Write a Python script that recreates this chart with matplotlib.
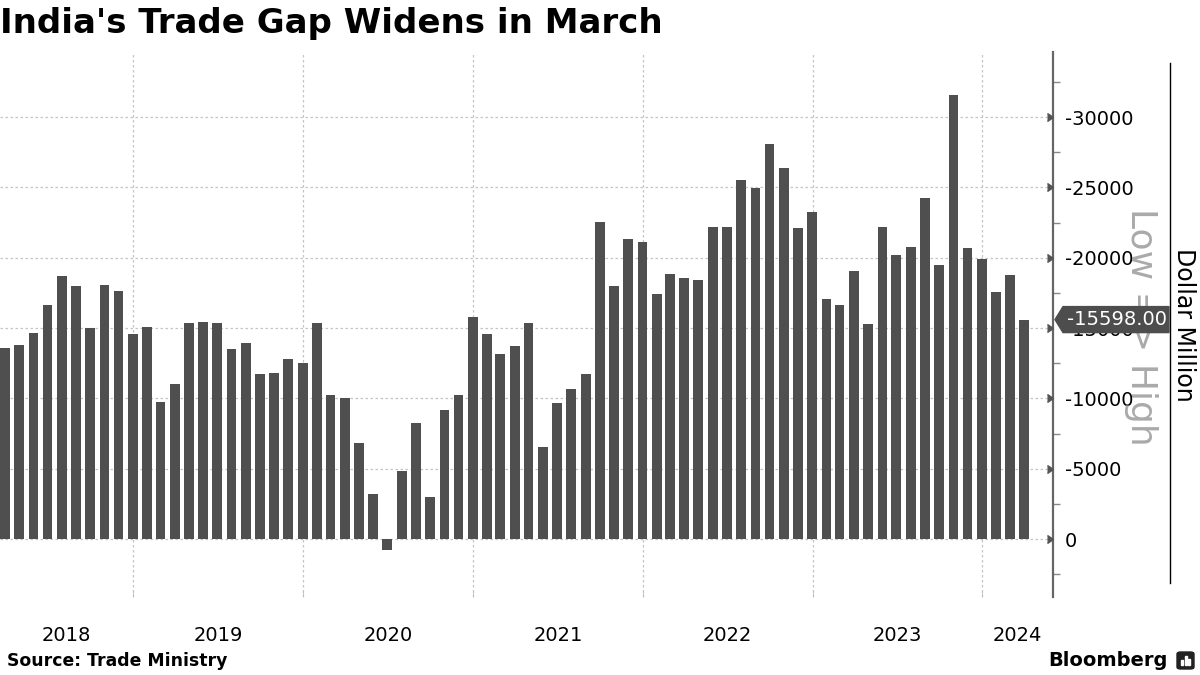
import matplotlib
matplotlib.use("Agg")
import matplotlib.pyplot as plt
import matplotlib.dates as mdates
from matplotlib.lines import Line2D
from matplotlib.patches import Polygon, FancyBboxPatch, Rectangle
import pandas as pd

# ---------------- DATA ----------------
# monthly merchandise trade balance, USD million (negative = deficit), Mar 2018 .. Mar 2024
months = pd.date_range("2018-03-01", periods=73, freq="MS") + pd.offsets.MonthEnd(0)
deficit = [
    13580, 13790, 14670, 16640, 18720, 18010, 15030, 18080, 17660, 14600,           # 2018
    15100, 9760, 11040, 15380, 15430, 15380, 13510, 13960, 11750, 11800, 12820, 12510,  # 2019
    15380, 10240, 10050, 6830, 3220, -760, 4830, 8250, 2990, 9170, 10240, 15780,     # 2020
    14570, 13150, 13720, 15360, 6540, 9670, 10660, 11750, 22540, 17990, 21330, 21110,  # 2021
    17420, 18840, 18560, 18410, 22180, 22180, 25520, 24950, 28080, 26370, 22110, 23250,  # 2022
    17060, 16640, 19050, 15280, 22180, 20190, 20760, 24240, 19480, 31560, 20690, 19910,  # 2023
    17560, 18770, 15598,                                                               # 2024
]
balance = [-v for v in deficit]

y_ticks = [0, -5000, -10000, -15000, -20000, -25000, -30000]
y_labels = [str(t) for t in y_ticks]
years = [2018, 2019, 2020, 2021, 2022, 2023, 2024]

TITLE = "India's Trade Gap Widens in March"
SOURCE = "Source: Trade Ministry"

# ---------------- STYLE ----------------
BAR = "#4f4f4f"
GRID = "#c4c4c4"
AXIS = "#666666"
W, H = 1200, 675


def fx(x):
    return x / W


def fy(y):
    return 1 - y / H


plt.rcParams["font.family"] = ["DejaVu Sans"]
plt.rcParams["axes.unicode_minus"] = False

fig = plt.figure(figsize=(12, 6.75), dpi=100)
ax = fig.add_axes([0, fy(597), fx(1053), fy(52) - fy(597)])

# bars sit on month-end dates
ax.bar(months, balance, width=21, color=BAR, zorder=2)

ax.set_xlim(pd.Timestamp("2018-03-20"), pd.Timestamp("2024-06-01"))
ax.set_ylim(4123, -34621)  # inverted: bigger deficit goes up

# gridlines
for t in y_ticks:
    ax.axhline(t, color=GRID, lw=0.9, ls=(0, (2, 2)), zorder=1)
boundaries = [pd.Timestamp(f"{y}-01-01") for y in years[1:]]
for b in boundaries:
    ax.axvline(b, color=GRID, lw=0.9, ls=(0, (2, 2)), zorder=1)

# x labels: centred in the visible part of each year
x0, x1 = ax.get_xlim()
edges = [x0] + [mdates.date2num(b) for b in boundaries] + [x1]
centres = [(edges[i] + edges[i + 1]) / 2 for i in range(len(years))]
ax.set_xticks(centres)
ax.set_xticklabels([str(y) for y in years], fontsize=14)
ax.set_xticks([mdates.date2num(b) for b in boundaries], minor=True)
ax.tick_params(axis="x", which="major", length=0, pad=21)
ax.tick_params(axis="x", which="minor", length=4, color="#bbbbbb", direction="in")

# right y axis
ax.yaxis.tick_right()
ax.set_yticks(y_ticks)
ax.set_yticklabels(y_labels, fontsize=14)
ax.set_yticks([t - 2500 for t in y_ticks] + [2500], minor=True)
ax.tick_params(axis="y", which="major", length=0, pad=8.5)
ax.tick_params(axis="y", which="minor", length=5, width=1, color="#888888")
ax.plot([1] * len(y_ticks), y_ticks, marker=5, ms=6, color="#555555", ls="none",
        transform=ax.get_yaxis_transform(), clip_on=False, zorder=5)

for s in ["top", "left", "bottom"]:
    ax.spines[s].set_visible(False)
ax.spines["right"].set_color(AXIS)
ax.spines["right"].set_linewidth(1.6)

# last value tag
last_y = ax.transData.transform((0, balance[-1]))[1]
cy = H - last_y
tag = Polygon([(fx(1055), fy(cy)), (fx(1063), fy(cy - 13)), (fx(1169), fy(cy - 13)),
               (fx(1169), fy(cy + 13)), (fx(1063), fy(cy + 13))],
              closed=True, transform=fig.transFigure, color="#4d4d4d", zorder=6)
fig.add_artist(tag)
fig.text(fx(1117), fy(cy), f"{balance[-1]:.2f}", color="white", fontsize=14,
         ha="center", va="center", zorder=7)

# right side annotations
fig.text(fx(1141), fy(327), "Low => High", rotation=-90, color="#aaaaaa",
         fontsize=26, ha="center", va="center")
fig.add_artist(Line2D([fx(1170), fx(1170)], [fy(63), fy(583)], color="black", lw=1))
fig.text(fx(1184), fy(325), "Dollar Million", rotation=-90, fontsize=17,
         ha="center", va="center")

# title and footer
fig.text(0, fy(23), TITLE, fontsize=24.5, fontweight="bold", ha="left", va="center")
fig.text(fx(7), fy(661), SOURCE, fontsize=12.4, fontweight="bold", ha="left", va="center")
fig.text(fx(1168), fy(661), "Bloomberg", fontsize=14, fontweight="bold", ha="right", va="center")
logo = FancyBboxPatch((fx(1177), fy(669)), fx(17), fy(652) - fy(669),
                      boxstyle="round,pad=0,rounding_size=0.003",
                      transform=fig.transFigure, color="#222222")
fig.add_artist(logo)
for i, hgt in enumerate([5, 9, 6]):
    fig.add_artist(Rectangle((fx(1181 + i * 3.5), fy(665)), fx(2), fy(665 - hgt) - fy(665),
                             transform=fig.transFigure, color="white"))

fig.savefig("out.png", dpi=100)
